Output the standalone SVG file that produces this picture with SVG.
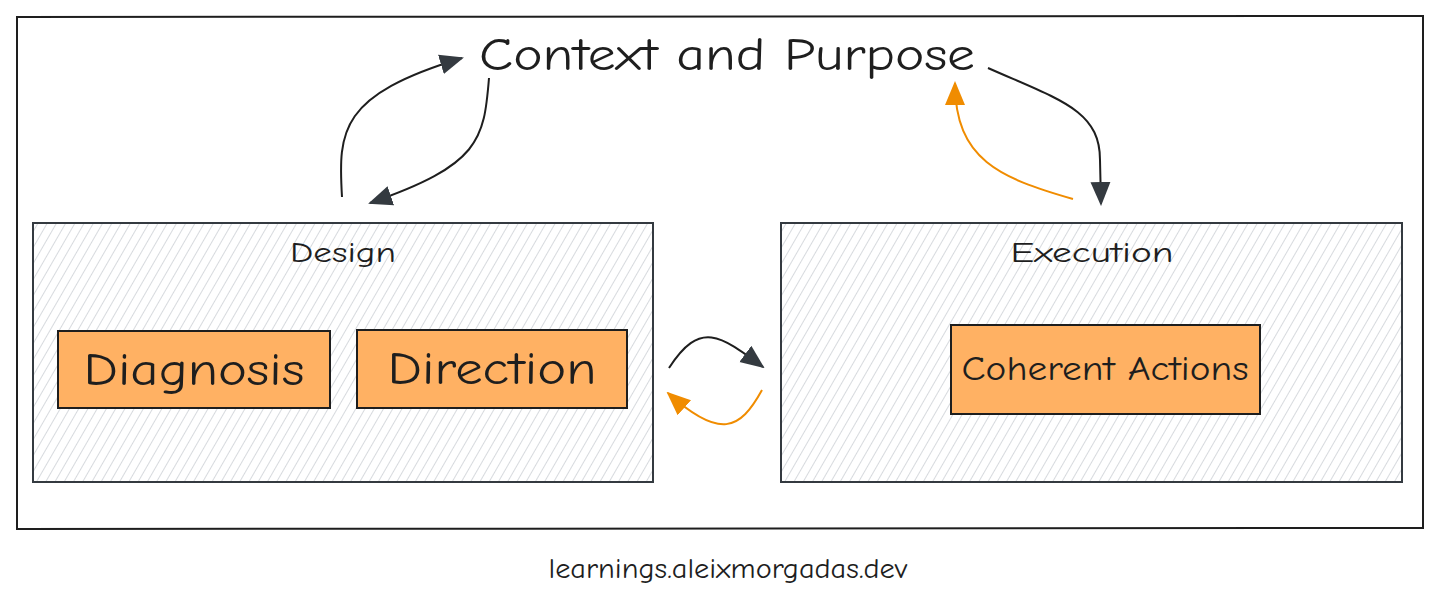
<svg xmlns="http://www.w3.org/2000/svg" width="1456" height="603" viewBox="0 0 1456 603">
<defs>
<pattern id="hatch" width="8" height="8" patternUnits="userSpaceOnUse" patternTransform="rotate(30)">
<rect width="8" height="8" fill="#ffffff"/>
<line x1="0" y1="0" x2="0" y2="8" stroke="#c6cbd0" stroke-width="1.4"/>
</pattern>
<marker id="ah" viewBox="0 0 24 22" refX="22" refY="11" markerWidth="24" markerHeight="22" markerUnits="userSpaceOnUse" orient="auto">
<path d="M0,1 L24,11 L0,21 Z" fill="#343a40"/>
</marker>
<marker id="ao" viewBox="0 0 24 22" refX="22" refY="11" markerWidth="24" markerHeight="22" markerUnits="userSpaceOnUse" orient="auto">
<path d="M0,1 L24,11 L0,21 Z" fill="#f08c00"/>
</marker>
</defs>
<style>
.t{font-family:"Comic Neue","Liberation Sans",sans-serif;fill:#1e1e1e;}
.grp{fill:url(#hatch);stroke:#343a40;stroke-width:2;}
.box{fill:#ffb163;stroke:#1e1e1e;stroke-width:2;}
.c{fill:none;stroke:#1e1e1e;stroke-width:2;}
.co{fill:none;stroke:#f08c00;stroke-width:2;}
</style>
<rect width="1456" height="603" fill="#ffffff"/>
<g id="frame">
<path d="M17,17 L1423,16 L1423,528 L17,529 Z" fill="none" stroke="#1e1e1e" stroke-width="2"/>
</g>
<g id="title">
<text class="t" x="727" y="70" font-size="46" text-anchor="middle" textLength="496" lengthAdjust="spacingAndGlyphs">Context and Purpose</text>
</g>
<g id="design">
<rect class="grp" x="33" y="223" width="620" height="259"/>
<text class="t" x="343" y="262" font-size="29" text-anchor="middle" textLength="106" lengthAdjust="spacingAndGlyphs" fill="#343a40">Design</text>
</g>
<g id="diagnosis">
<rect class="box" x="58" y="331" width="272" height="77"/>
<text class="t" x="194" y="385" font-size="46" text-anchor="middle" textLength="221" lengthAdjust="spacingAndGlyphs">Diagnosis</text>
</g>
<g id="direction">
<rect class="box" x="357" y="330" width="270" height="78"/>
<text class="t" x="492" y="384" font-size="46" text-anchor="middle" textLength="209" lengthAdjust="spacingAndGlyphs">Direction</text>
</g>
<g id="execution">
<rect class="grp" x="781" y="223" width="621" height="259"/>
<text class="t" x="1092" y="262" font-size="29" text-anchor="middle" textLength="163" lengthAdjust="spacingAndGlyphs" fill="#343a40">Execution</text>
</g>
<g id="coherent">
<rect class="box" x="951" y="325" width="309" height="89"/>
<text class="t" x="1105" y="380" font-size="34" text-anchor="middle" textLength="287" lengthAdjust="spacingAndGlyphs">Coherent Actions</text>
</g>
<g id="footer">
<text class="t" x="728" y="578" font-size="28" text-anchor="middle" textLength="359" lengthAdjust="spacingAndGlyphs">learnings.aleixmorgadas.dev</text>
</g>
<g id="connectors">
<path class="c" d="M342,197 C338,130 340,95 462,58" marker-end="url(#ah)"/>
<path class="c" d="M489,78 C484,140 480,165 370,203" marker-end="url(#ah)"/>
<path class="c" d="M988,68 C1060,100 1100,110 1100,160 L1101,204" marker-end="url(#ah)"/>
<path class="co" d="M1073,199 C1000,178 955,160 955,83" marker-end="url(#ao)"/>
<path class="c" d="M669,368 C700,320 720,335 763,367" marker-end="url(#ah)"/>
<path class="co" d="M762,390 C740,430 720,440 668,393" marker-end="url(#ao)"/>
</g>
</svg>
